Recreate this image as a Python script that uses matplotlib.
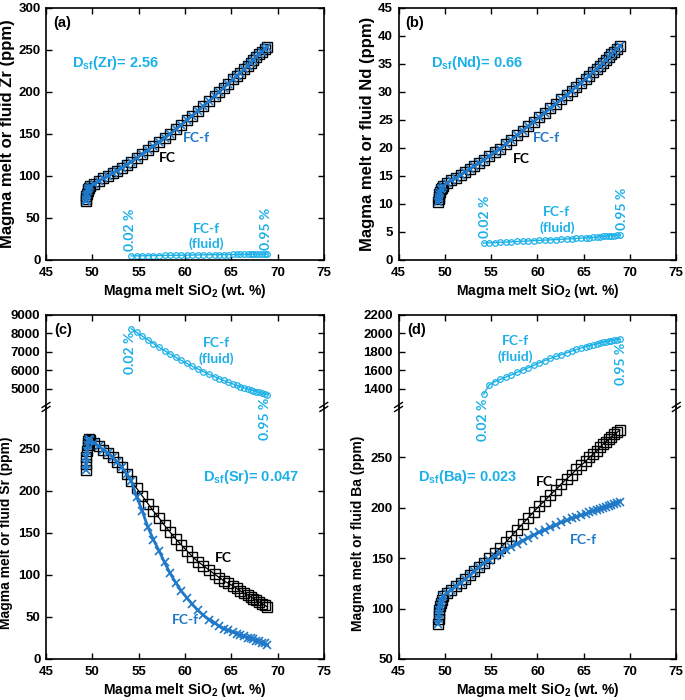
import matplotlib.pyplot as plt

plt.rcParams['font.family'] = ['Liberation Sans', 'DejaVu Sans']
plt.rcParams['font.weight'] = 'bold'
plt.rcParams['axes.labelweight'] = 'bold'
plt.rcParams['mathtext.fontset'] = 'custom'
plt.rcParams['mathtext.rm'] = 'Liberation Sans:bold'
plt.rcParams['mathtext.it'] = 'Liberation Sans:bold:italic'
plt.rcParams['mathtext.bf'] = 'Liberation Sans:bold'

# SiO2 of the melt at each model step (wt. %)
sio2 = [49.30, 49.33, 49.37, 49.42, 49.48, 49.56, 49.66, 49.80,
        50.2, 50.7, 51.2, 51.7, 52.2, 52.7, 53.2, 53.7, 54.2,
        54.8, 55.4, 56.0, 56.6, 57.2, 57.8, 58.4, 59.0, 59.6, 60.2, 60.8, 61.4, 62.0, 62.6, 63.2,
        63.7, 64.2, 64.7, 65.2, 65.6, 66.0, 66.4, 66.8, 67.1, 67.4, 67.7, 68.0, 68.3, 68.6, 68.9]
# steps with a fluid phase (0.02 % ... 0.95 %)
sio2_fluid = [54.2, 54.8, 55.4, 56.0, 56.6, 57.2, 57.8, 58.4, 59.0, 59.6, 60.2, 60.8, 61.4, 62.0, 62.6, 63.2,
              63.7, 64.2, 64.7, 65.2, 65.6, 66.0, 66.4, 66.8, 67.1, 67.4, 67.7, 68.0, 68.3, 68.6, 68.9]

# (a) Zr
zr_fc = [70, 73, 76, 79, 82, 84, 86, 88,
         90, 93.5, 97, 100, 103, 106.5, 110, 113.5, 117,
         121.5, 126, 130.5, 135.5, 140.5, 145.5, 150.5, 155.5, 161, 166.5, 172, 177.5, 183, 189, 195,
         200, 205, 210, 215, 219, 223, 227, 231.5, 235, 238, 241.5, 245, 248, 251, 254]
zr_fcf = list(zr_fc)  # FC-f plots on top of FC
zr_fluid = [4.8, 4.9, 5.0, 5.1, 5.2, 5.3, 5.4, 5.5, 5.6, 5.7, 5.8, 5.9, 6.0, 6.1, 6.2, 6.3,
            6.35, 6.4, 6.5, 6.55, 6.6, 6.65, 6.7, 6.75, 6.8, 6.85, 6.9, 6.9, 6.95, 7.0, 7.0]

# (b) Nd
nd_fc = [10.3, 10.8, 11.3, 11.8, 12.2, 12.6, 12.9, 13.2,
         13.7, 14.2, 14.7, 15.2, 15.7, 16.2, 16.8, 17.3, 17.8,
         18.5, 19.2, 19.9, 20.7, 21.5, 22.3, 23.1, 23.9, 24.7, 25.5, 26.3, 27.1, 27.9, 28.7, 29.5,
         30.2, 30.9, 31.6, 32.3, 32.9, 33.5, 34.1, 34.7, 35.2, 35.7, 36.2, 36.7, 37.2, 37.7, 38.2]
nd_fcf = list(nd_fc)
nd_fluid = [3.0, 3.05, 3.1, 3.15, 3.2, 3.25, 3.3, 3.35, 3.4, 3.45, 3.5, 3.55, 3.6, 3.65, 3.7, 3.75,
            3.8, 3.85, 3.9, 3.95, 4.0, 4.05, 4.1, 4.15, 4.2, 4.25, 4.3, 4.33, 4.37, 4.41, 4.45]

# (c) Sr
sr_fc = [225, 232, 240, 248, 255, 260, 262, 261,
         257, 253, 249, 245, 240, 234, 228, 220, 212,
         203, 194, 185, 176, 168, 159, 151, 143, 136, 129, 122, 116, 111, 106, 101,
         97, 93, 90, 87, 84, 81, 78, 76, 74, 72, 70, 68, 66, 64, 62]
sr_fcf = [225, 232, 240, 248, 255, 260, 262, 261,
          257, 253, 249, 245, 240, 234, 228, 220, 212,
          193, 176, 157, 142, 129, 115, 102, 91, 81, 73, 65, 58, 52, 47, 43,
          39, 36, 34, 32, 30, 28.5, 27, 25.5, 24.5, 23.5, 22, 21, 19.5, 18.5, 17]
sr_fluid = [8250, 8050, 7850, 7650, 7450, 7250, 7060, 6880, 6700, 6530, 6370, 6210, 6060, 5920, 5780, 5650,
            5540, 5440, 5340, 5250, 5180, 5110, 5040, 4980, 4930, 4880, 4840, 4790, 4750, 4710, 4670]

# (d) Ba
ba_fc = [85, 90, 95, 99, 103, 106, 109, 112,
         115, 118.5, 122, 125.5, 129, 133, 137, 141, 145,
         150, 155, 160, 166, 172, 178, 184, 190, 196, 202, 207, 213, 218, 224, 229,
         233, 238, 242, 246, 250, 253, 256.5, 260, 263, 265.5, 268, 270.5, 273, 275, 277]
ba_fcf = [85, 90, 95, 99, 103, 106, 109, 112,
          115, 118.5, 122, 125.5, 129, 133, 137, 141, 145,
          148.5, 152, 155.5, 158.5, 161.5, 164.5, 167.5, 170.5, 173, 175.5, 178, 180.5, 183, 185.5, 187.5,
          189.5, 191, 192.5, 194, 195.5, 197, 198, 199, 200, 201, 202, 203, 204, 205, 206]
ba_fluid = [1340, 1440, 1475, 1500, 1525, 1550, 1578, 1602, 1627, 1653, 1680, 1705, 1728, 1750, 1770, 1790,
            1808, 1825, 1840, 1855, 1866, 1877, 1887, 1896, 1903, 1910, 1916, 1922, 1928, 1933, 1938]

BLUE = '#1f78c8'
LIGHT = '#1cb0e8'
LABEL_FONT = ['Lato', 'DejaVu Sans']
XLABEL = r'Magma melt SiO$_2$ (wt. %)'


def style(ax, bottom=True, top=True):
    ax.tick_params(direction='in', length=4, width=1, top=top, right=True, bottom=bottom,
                   labelbottom=bottom, labelsize=9.5)
    ax.tick_params(axis='x', pad=5)
    ax.tick_params(axis='y', pad=4)
    for s in ax.spines.values():
        s.set_linewidth(1.2)
    ax.set_xlim(45, 75)
    ax.set_xticks(range(45, 80, 5))


def draw_melt(ax, fc, fcf):
    ax.plot(sio2, fc, color='black', lw=0.9, marker='s', ms=6.5, mfc='none', mec='black', mew=1.0)
    ax.plot(sio2, fcf, color=BLUE, lw=2, marker='x', ms=6, mew=1.2)


def draw_fluid(ax, fl):
    ax.plot(sio2_fluid, fl, color=LIGHT, lw=1, marker='o', ms=4, mfc='none', mew=0.9)


def note(ax, x, y, s, color, **kw):
    ax.text(x, y, s, color=color, fontsize=10, fontweight='bold', family=LABEL_FONT,
            ha='center', va='center', linespacing=1.3, **kw)


def pct(ax, x, y, s, va):
    ax.text(x, y, s, color=LIGHT, fontsize=10, fontweight='bold', family=LABEL_FONT,
            rotation=90, ha='center', va=va, clip_on=False)


def breakmarks(ax):
    for xx in (0, 1):
        for off in (-0.008, 0.008):
            ax.plot([xx - 0.014, xx + 0.014], [1 + off - 0.01, 1 + off + 0.01],
                    transform=ax.transAxes, color='black', lw=1, clip_on=False, zorder=10)


fig = plt.figure(figsize=(6.85, 7.0), dpi=100)

L1, L2, W = 0.0672, 0.5818, 0.4055

# ---- (a) Zr ----
ax = fig.add_axes([L1, 0.6286, W, 0.36])
style(ax)
draw_melt(ax, zr_fc, zr_fcf)
draw_fluid(ax, zr_fluid)
ax.set_ylim(0, 300)
ax.set_yticks(range(0, 301, 50))
ax.set_xlabel(XLABEL, fontsize=10, labelpad=2)
ax.set_ylabel('Magma melt or fluid Zr (ppm)', fontsize=12, labelpad=2)
ax.text(0.025, 0.94, '(a)', transform=ax.transAxes, fontsize=10.5, va='center')
ax.text(47.8, 235, r'D$_{\rm sf}$(Zr)= 2.56', color=LIGHT, fontsize=10.5, va='center')
note(ax, 61.2, 145, 'FC-f', BLUE)
note(ax, 58.1, 121, 'FC', 'black')
note(ax, 62.3, 28, 'FC-f\n(fluid)', LIGHT)
pct(ax, 54.1, 11, '0.02 %', 'bottom')
pct(ax, 68.8, 12, '0.95 %', 'bottom')

# ---- (b) Nd ----
ax = fig.add_axes([L2, 0.6286, W, 0.36])
style(ax)
draw_melt(ax, nd_fc, nd_fcf)
draw_fluid(ax, nd_fluid)
ax.set_ylim(0, 45)
ax.set_yticks(range(0, 46, 5))
ax.set_xlabel(XLABEL, fontsize=10, labelpad=2)
ax.set_ylabel('Magma melt or fluid Nd (ppm)', fontsize=12, labelpad=2)
ax.text(0.025, 0.94, '(b)', transform=ax.transAxes, fontsize=10.5, va='center')
ax.text(48.5, 35.2, r'D$_{\rm sf}$(Nd)= 0.66', color=LIGHT, fontsize=10.5, va='center')
note(ax, 61.0, 21.7, 'FC-f', BLUE)
note(ax, 58.3, 18, 'FC', 'black')
note(ax, 62.1, 7.2, 'FC-f\n(fluid)', LIGHT)
pct(ax, 54.3, 4.0, '0.02 %', 'bottom')
pct(ax, 69.1, 5.3, '0.95 %', 'bottom')

# ---- (c) Sr, broken y axis ----
up = fig.add_axes([L1, 0.4186, W, 0.1314])
lo = fig.add_axes([L1, 0.0586, W, 0.36])
up.set_zorder(3)
up.patch.set_alpha(0)
style(up, bottom=False)
style(lo, top=False)
up.spines['bottom'].set_visible(False)
lo.spines['top'].set_visible(False)
draw_fluid(up, sr_fluid)
draw_melt(lo, sr_fc, sr_fcf)
up.set_ylim(4000, 9000)
up.set_yticks(range(5000, 9001, 1000))
lo.set_ylim(0, 300)
lo.set_yticks(range(0, 251, 50))
breakmarks(lo)
lo.set_xlabel(XLABEL, fontsize=10, labelpad=2)
lo.set_ylabel('Magma melt or fluid Sr (ppm)', fontsize=10, labelpad=4)
up.text(0.03, 0.84, '(c)', transform=up.transAxes, fontsize=10.5, va='center')
lo.text(61.9, 217, r'D$_{\rm sf}$(Sr)= 0.047', color=LIGHT, fontsize=10.5, va='center')
note(lo, 64.2, 120, 'FC', 'black')
note(lo, 60.1, 46, 'FC-f', BLUE)
note(up, 63.4, 7050, 'FC-f\n(fluid)', LIGHT)
pct(up, 54.1, 8080, '0.02 %', 'top')
pct(up, 68.7, 4500, '0.95 %', 'top')

# ---- (d) Ba, broken y axis ----
up = fig.add_axes([L2, 0.4186, W, 0.1314])
lo = fig.add_axes([L2, 0.0586, W, 0.36])
up.set_zorder(3)
up.patch.set_alpha(0)
style(up, bottom=False)
style(lo, top=False)
up.spines['bottom'].set_visible(False)
lo.spines['top'].set_visible(False)
draw_fluid(up, ba_fluid)
draw_melt(lo, ba_fc, ba_fcf)
up.set_ylim(1200, 2200)
up.set_yticks(range(1400, 2201, 200))
lo.set_ylim(50, 300)
lo.set_yticks(range(50, 251, 50))
breakmarks(lo)
lo.set_xlabel(XLABEL, fontsize=10, labelpad=2)
lo.set_ylabel('Magma melt or fluid Ba (ppm)', fontsize=10, labelpad=4)
up.text(0.03, 0.84, '(d)', transform=up.transAxes, fontsize=10.5, va='center')
lo.text(47.1, 231, r'D$_{\rm sf}$(Ba)= 0.023', color=LIGHT, fontsize=10.5, va='center')
note(lo, 60.8, 226, 'FC', 'black')
note(lo, 65.0, 168, 'FC-f', BLUE)
note(up, 57.6, 1830, 'FC-f\n(fluid)', LIGHT)
pct(up, 54.1, 1290, '0.02 %', 'top')
pct(up, 69.0, 1895, '0.95 %', 'top')

fig.savefig('out.png', dpi=100)
